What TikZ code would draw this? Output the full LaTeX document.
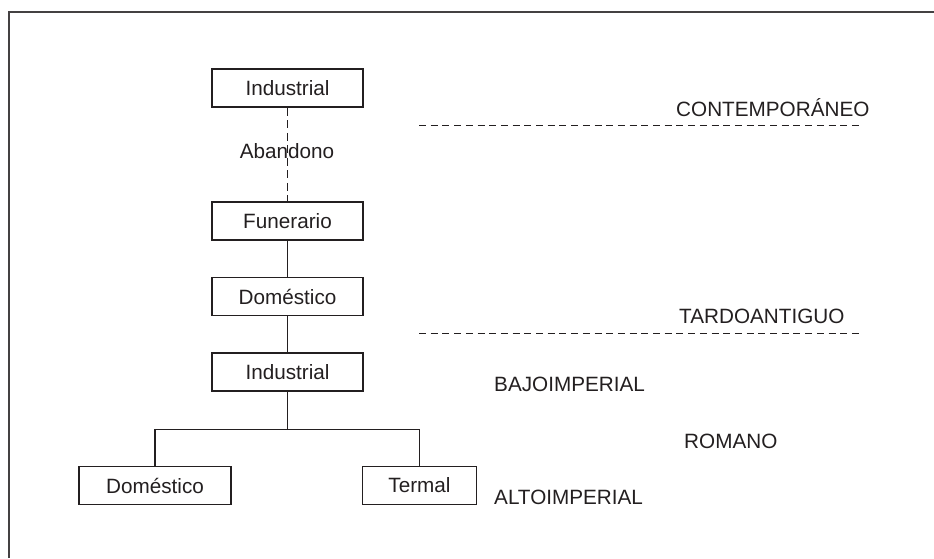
\documentclass[tikz,border=0pt]{standalone}
\usepackage{fontspec}
\setmainfont{Liberation Sans}
\usetikzlibrary{positioning}

\definecolor{ink}{HTML}{231F20}
\tikzset{
  fase/.style={draw=ink, line width=1.6pt, minimum width=151pt, minimum height=38pt, inner sep=0pt},
  etapa/.style={anchor=base west, inner sep=0pt},
  corte/.style={ink, line width=1.4pt, dash pattern=on 7pt off 4.7pt},
}

\begin{document}
\begin{tikzpicture}[x=1pt, y=-1pt, font=\fontsize{20.7}{24}\selectfont, text=ink]
    \useasboundingbox (0,0) rectangle (934,558);
    % marco
    \draw [ink!85, line width=2.2pt] (9.3,558) -- (9.3,12) -- (934,12);

    % secuencia de usos
    \node [fase] (ind1) at (287.5,88) {Industrial};
    \node [fase] (fun) at (287.5,221) {Funerario};
    \node [fase] (dom1) at (287.5,296.5) {Doméstico};
    \node [fase] (ind2) at (287.5,372) {Industrial};
    \node [fase, minimum width=152pt] (dom2) at (155,485.5) {Doméstico};
    \node [fase, minimum width=114pt] (ter) at (419.5,485.5) {Termal};

    \draw [ink, line width=1.4pt, dash pattern=on 8pt off 4.5pt] (ind1) -- (fun);
    \node [anchor=base, inner sep=0pt] (aban) at (287,158) {Abandono};
    \draw [ink, line width=1.8pt] (fun) -- (dom1);
    \draw [ink, line width=1.8pt] (dom1) -- (ind2);
    \draw [ink, line width=1.6pt] (ind2.south) -- ++(0,37.7) coordinate (rama);
    \draw [ink, line width=1.6pt] (dom2.north) |- (rama) -| (ter.north);

    % periodos
    \coordinate (c1a) at (419,125.7);
    \coordinate (c1b) at (863,125.7);
    \coordinate (c2a) at (419,333.3);
    \coordinate (c2b) at (863,333.3);
    \draw [corte] (c1a) -- (c1b);
    \draw [corte] (c2a) -- (c2b);
    \node [etapa] (contemp) at (676,116) {CONTEMPORÁNEO};
    \node [etapa] (tardo) at (679,323) {TARDOANTIGUO};
    \node [etapa] (bajo) at (494,391) {BAJOIMPERIAL};
    \node [etapa] (romano) at (684,448) {ROMANO};
    \node [etapa] (alto) at (494,504) {ALTOIMPERIAL};
\end{tikzpicture}
\end{document}
